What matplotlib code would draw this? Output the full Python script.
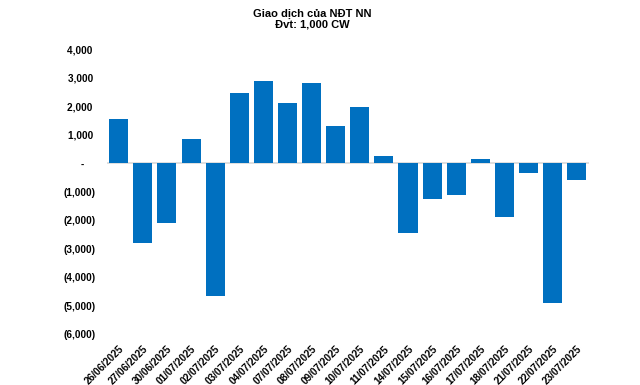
import numpy as np
import matplotlib.pyplot as plt
from matplotlib.ticker import FixedLocator

plt.rcParams['font.family'] = ['Liberation Sans', 'DejaVu Sans']

dates = ["26/06/2025", "27/06/2025", "30/06/2025", "01/07/2025", "02/07/2025",
         "03/07/2025", "04/07/2025", "07/07/2025", "08/07/2025", "09/07/2025",
         "10/07/2025", "11/07/2025", "14/07/2025", "15/07/2025", "16/07/2025",
         "17/07/2025", "18/07/2025", "21/07/2025", "22/07/2025", "23/07/2025"]
values = [1550, -2790, -2085, 850, -4680,
          2465, 2890, 2115, 2815, 1310,
          1975, 255, -2470, -1255, -1110,
          150, -1885, -340, -4900, -585]
yticks = [4000, 3000, 2000, 1000, 0, -1000, -2000, -3000, -4000, -5000, -6000]


def fmt(v):
    if v == 0:
        return "-    "
    if v < 0:
        return "({:,})".format(-v)
    return "{:,} ".format(v)


fig = plt.figure(figsize=(6.4, 3.85), dpi=100)
ax = fig.add_axes([0.1667, 0.1325, 0.7533, 0.7395])

x = np.arange(len(dates))
ax.bar(x, values, width=0.79, color="#0070C0", zorder=2)
ax.axhline(0, color="#D9D9D9", lw=1.2, zorder=1)

ax.set_xlim(-0.5, len(dates) - 0.5)
ax.set_ylim(-6000, 4000)
ax.yaxis.set_major_locator(FixedLocator(yticks))
ax.set_yticklabels([fmt(v) for v in yticks], fontsize=7.2, fontweight="bold")
ax.set_xticks(x)
ax.set_xticklabels(dates, rotation=45, ha="right", rotation_mode="anchor",
                   fontsize=7.2, fontweight="bold")
ax.tick_params(axis="y", length=0, pad=8)
ax.tick_params(axis="x", length=0, pad=7)
for s in ax.spines.values():
    s.set_visible(False)

fig.text(0.4875, 0.978, "Giao dịch của NĐT NN\nĐvt: 1,000 CW", ha="center", va="top",
         fontsize=8, fontweight="bold", linespacing=1.1)

fig.savefig("out.png", dpi=100)
